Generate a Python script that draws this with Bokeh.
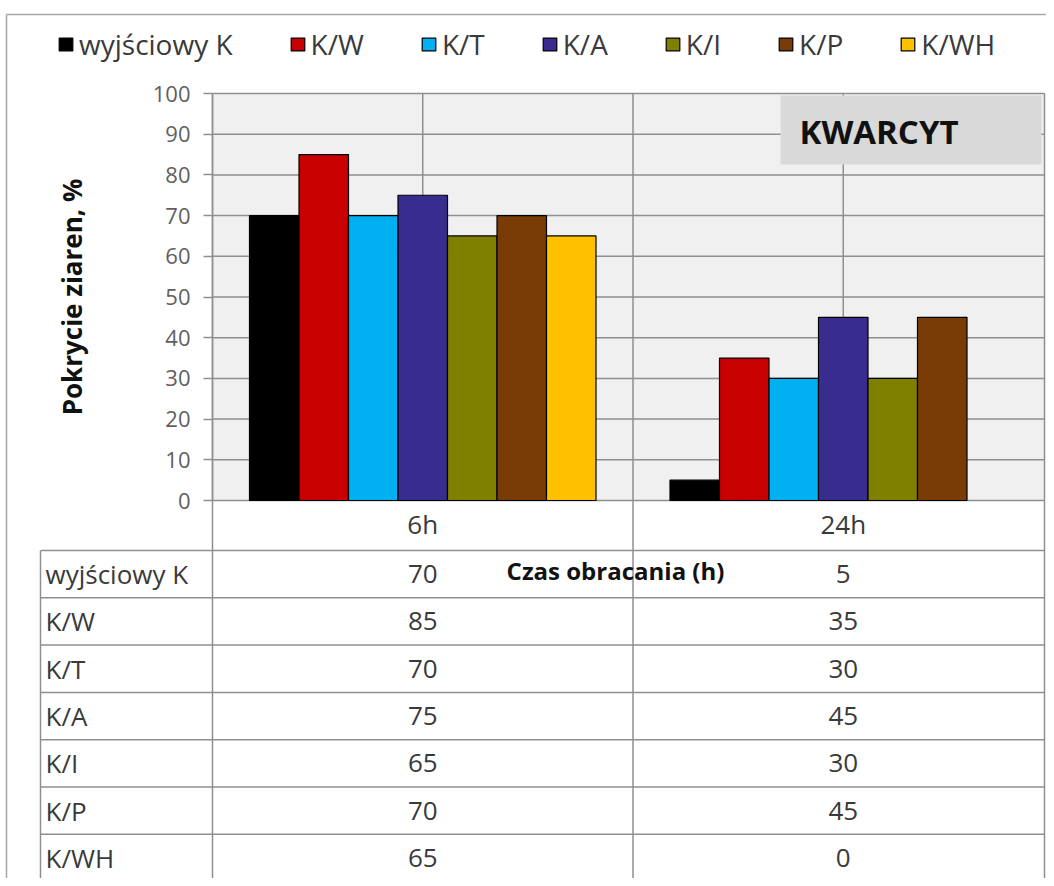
import numpy as np
from bokeh.plotting import figure
from bokeh.models import (Range1d, LinearAxis, FixedTicker, ColumnDataSource,
                          Legend, LegendItem)
from bokeh.core.properties import value
from bokeh.embed import file_html
from bokeh.resources import INLINE

# ---------------- data ----------------
categories = ["6h", "24h"]
series_names = ["wyjściowy K", "K/W", "K/T", "K/A", "K/I", "K/P", "K/WH"]
wyjsciowy_K = [70, 5]
K_W = [85, 35]
K_T = [70, 30]
K_A = [75, 45]
K_I = [65, 30]
K_P = [70, 45]
K_WH = [65, 0]
series_values = [wyjsciowy_K, K_W, K_T, K_A, K_I, K_P, K_WH]
y_ticks = [0, 10, 20, 30, 40, 50, 60, 70, 80, 90, 100]
x_title = "Czas obracania (h)"
y_title = "Pokrycie ziaren, %"
box_title = "KWARCYT"

# ---------------- styles / layout ----------------
colors = ["#000000", "#c80000", "#00b0f0", "#382c8e", "#7f7f00", "#7a3c06", "#ffc000"]
FONT_NAME = "Open Sans"
FONT = value(FONT_NAME)
GRID = "#8f8f8f"
TXT = "#3a3a3a"

W, H = 1046, 878          # figure size
PLOT_L, PLOT_R = 212, 1044
CAT_W = 420.5
PLOT_TOP, PLOT_BOT = 93, 500
PPU = (PLOT_BOT - PLOT_TOP) / 100.0
TABLE_TOP, ROW_H = 550, 47.3
BW = 49.5 / CAT_W

def fx(px):
    return (px - PLOT_L) / CAT_W

def fy(py):
    return (PLOT_BOT - py) / PPU

p = figure(width=W, height=H,
           x_range=Range1d(fx(0), fx(W)),
           y_range=Range1d(fy(H), fy(0)),
           output_backend="svg", toolbar_location=None,
           x_axis_type=None, y_axis_type=None, min_border=0,
           outline_line_color=None, background_fill_color="white",
           border_fill_color="white")
p.extra_y_ranges = {"table": Range1d(start=(H - TABLE_TOP) / ROW_H,
                                     end=(0 - TABLE_TOP) / ROW_H)}

n_cat = len(categories)
n_ser = len(series_names)
cat_idx = np.arange(n_cat)

# outer chart border
p.segment(x0=[fx(6), fx(6)], y0=[fy(14), fy(14)], x1=[fx(W), fx(6)],
          y1=[fy(14), fy(H + 5)], line_color="#a6a6a6", line_width=1.5)

# plot area
p.quad(left=[0], right=[fx(PLOT_R)], bottom=[0], top=[100],
       fill_color="#f0f0f0", line_color=None)

# horizontal gridlines
p.segment(x0=[0] * len(y_ticks), x1=[fx(PLOT_R)] * len(y_ticks),
          y0=y_ticks, y1=y_ticks, line_color=GRID, line_width=1.5)
# vertical gridlines at category centres (plot only)
p.segment(x0=cat_idx + 0.5, x1=cat_idx + 0.5, y0=[0] * n_cat, y1=[100] * n_cat,
          line_color=GRID, line_width=1.5)
# category boundaries + right border, through table
bx = list(cat_idx) + [fx(PLOT_R)]
p.segment(x0=bx, x1=bx, y0=[100] * len(bx), y1=[fy(H + 5)] * len(bx),
          line_color=GRID, line_width=1.5)

# KWARCYT box
p.quad(left=[fx(780)], right=[fx(1041)], top=[fy(95)], bottom=[fy(164)],
       fill_color="#d9d9d9", line_color=None)
p.text(x=[fx(799)], y=[fy(131)], text=[box_title], text_font=FONT,
       text_font_size="33px", text_font_style="bold", text_color="#111111",
       text_align="left", text_baseline="middle")

# bars
items = []
for j, (name, vals, col) in enumerate(zip(series_names, series_values, colors)):
    src = ColumnDataSource(dict(x=cat_idx + 0.5 + (j - (n_ser - 1) / 2) * BW,
                                top=vals,
                                edge=[1.0 if v > 0 else 0.0 for v in vals]))
    r = p.vbar(x="x", top="top", bottom=0, width=BW, source=src,
               fill_color=col, line_color="#000000", line_width=1.2,
               line_alpha="edge")
    items.append(LegendItem(label=name, renderers=[r], index=0))

# y axis
yaxis = LinearAxis(fixed_location=0, bounds=(0, 100),
                   ticker=FixedTicker(ticks=y_ticks, minor_ticks=[]),
                   axis_label=y_title,
                   axis_line_color=GRID, axis_line_width=1.5,
                   major_tick_line_color=GRID, major_tick_line_width=1.5,
                   major_tick_out=9, major_tick_in=0,
                   minor_tick_out=0, minor_tick_in=0,
                   major_label_text_font=FONT_NAME, major_label_text_font_size="22px",
                   major_label_text_color="#5f5f5f", major_label_standoff=13,
                   axis_label_text_font=FONT_NAME, axis_label_text_font_size="26px",
                   axis_label_text_font_style="bold",
                   axis_label_text_color="#111111", axis_label_standoff=60)
p.add_layout(yaxis, "left")

# ---------------- data table ----------------
row_lines = np.arange(n_ser + 1)
p.segment(x0=[fx(40)] * len(row_lines), x1=[fx(PLOT_R)] * len(row_lines),
          y0=row_lines, y1=row_lines, line_color=GRID, line_width=1.5,
          y_range_name="table")
p.segment(x0=[fx(40)], x1=[fx(40)], y0=[0], y1=[n_ser + 1],
          line_color=GRID, line_width=1.5, y_range_name="table")

# header (category labels)
p.text(x=cat_idx + 0.5, y=[-0.55] * n_cat, text=categories, text_font=FONT,
       text_font_size="26px", text_color=TXT, text_align="center",
       text_baseline="middle", y_range_name="table")
# row labels
p.text(x=[fx(45)] * n_ser, y=np.arange(n_ser) + 0.5, text=series_names,
       text_font=FONT, text_font_size="26px", text_color=TXT,
       text_align="left", text_baseline="middle", y_range_name="table")
# values
tx, ty, tt = [], [], []
for i, vals in enumerate(series_values):
    for c, v in enumerate(vals):
        tx.append(c + 0.5)
        ty.append(i + 0.5)
        tt.append(str(v))
p.text(x=tx, y=ty, text=tt, text_font=FONT, text_font_size="26px",
       text_color=TXT, text_align="center", text_baseline="middle",
       y_range_name="table")

# x-axis title (overlapping the table as in the original)
p.text(x=[fx(615)], y=[fy(570)], text=[x_title], text_font=FONT,
       text_font_size="24px", text_font_style="bold", text_color="#111111",
       text_align="center", text_baseline="middle")

# legend
legend = Legend(items=items, orientation="horizontal", location=(57, 815),
                glyph_width=17, glyph_height=16, label_standoff=5, spacing=56,
                padding=0, margin=0, border_line_color=None,
                background_fill_alpha=0, label_text_font=FONT_NAME,
                label_text_font_size="28px", label_text_color=TXT)
p.add_layout(legend)

open("out.html", "w").write(file_html(p, INLINE))
